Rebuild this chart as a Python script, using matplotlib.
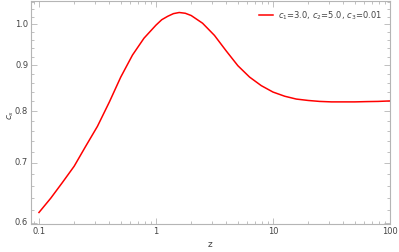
import matplotlib
matplotlib.use("Agg")
import matplotlib.pyplot as plt
import matplotlib.transforms as mtransforms
from matplotlib.ticker import NullFormatter

z = [0.1, 0.126, 0.158, 0.2, 0.25, 0.316, 0.4, 0.5, 0.63, 0.79, 1.0, 1.12,
     1.26, 1.41, 1.58, 1.78, 2.0, 2.5, 3.16, 3.98, 5.01, 6.31, 7.94, 10,
     12.6, 15.8, 20, 25, 31.6, 40, 50, 63, 79, 100]
cs = [0.616, 0.639, 0.665, 0.694, 0.730, 0.769, 0.819, 0.873, 0.924, 0.965,
      0.998, 1.012, 1.021, 1.028, 1.031, 1.029, 1.023, 1.003, 0.972, 0.934,
      0.899, 0.873, 0.854, 0.840, 0.831, 0.825, 0.822, 0.820, 0.819, 0.819,
      0.819, 0.8196, 0.820, 0.821]
label = r"$c_1$=3.0, $c_2$=5.0, $c_3$=0.01"
xticks = [0.1, 1, 10, 100]
xticklabels = ["0.1", "1", "10", "100"]
yticks = [0.6, 0.7, 0.8, 0.9, 1.0]
yticklabels = ["0.6", "0.7", "0.8", "0.9", "1.0"]

fig = plt.figure(figsize=(3.99, 2.52), dpi=100)
ax = fig.add_axes([31/399, 1-224/252, (390-31)/399, (224-1)/252])
ax.plot(z, cs, color="#ff0000", lw=1.1, label=label)
ax.set_xscale("log")
ax.set_yscale("log")

frame_c = "#b5b5b5"
text_c = "#444444"
for s in ax.spines.values():
    s.set_color(frame_c)
    s.set_linewidth(0.8)

xminor = [m * 10.0**e for e in (-2, -1, 0, 1) for m in range(2, 10)]
ax.set_xticks(xminor, minor=True)
ax.set_xticks(xticks, labels=xticklabels)
yminor = [round(0.6 + 0.02*i, 2) for i in range(0, 24)]
yminor = [v for v in yminor if v not in yticks]
ax.set_yticks(yminor, minor=True)
ax.set_yticks(yticks, labels=[""] * len(yticks))
ax.xaxis.set_minor_formatter(NullFormatter())
ax.yaxis.set_minor_formatter(NullFormatter())
ax.set_xlim(0.0855, 100)
ax.set_ylim(0.598, 1.062)

ax.tick_params(which="both", direction="in", top=True, right=True,
               color=frame_c, labelcolor=text_c, labelsize=6, width=0.6)
ax.tick_params(which="major", length=4, pad=2)
ax.tick_params(which="minor", length=2)

# y tick labels drawn as texts at the tick positions
trans = mtransforms.blended_transform_factory(ax.transAxes, ax.transData)
for v, t in zip(yticks, yticklabels):
    ax.text(-0.008, v, t, transform=trans, ha="right", va="center",
            fontsize=6, color=text_c, clip_on=False)

ax.set_xlabel("z", fontsize=6.5, color=text_c, labelpad=3)
fig.text(11/399, 1-115/252, r"$c_s$", fontsize=6.5, color=text_c,
         rotation=90, ha="center", va="center")

leg = ax.legend(loc="upper right", frameon=False, fontsize=6,
                handlelength=1.6, handletextpad=0.6, borderaxespad=0.6)
for t in leg.get_texts():
    t.set_color(text_c)

fig.savefig("out.png", dpi=100)
